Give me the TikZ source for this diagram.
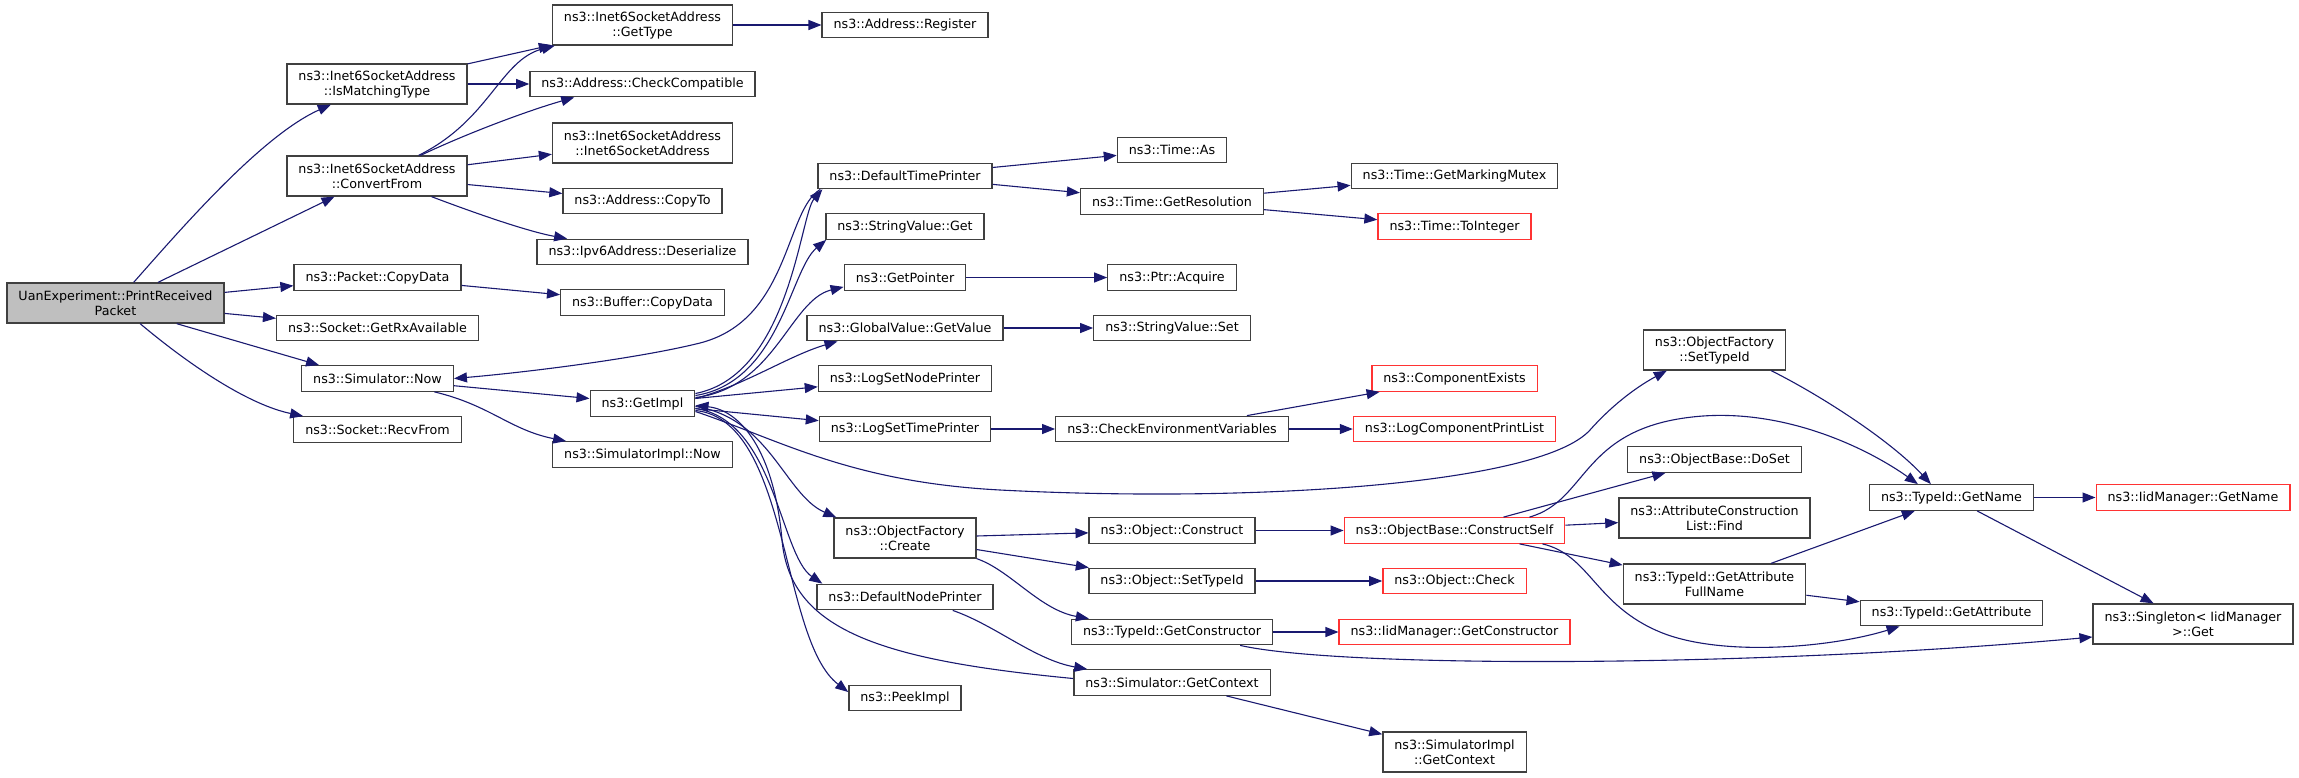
\documentclass[tikz,border=0pt]{standalone}
\usepackage{fontspec}
\setmainfont{DejaVu Sans}
\usetikzlibrary{arrows.meta}
\definecolor{edgeblue}{HTML}{191970}
\definecolor{boxgray}{HTML}{404040}
\definecolor{boxred}{HTML}{FF3333}
\definecolor{rootfill}{HTML}{BFBFBF}

\begin{document}
\begin{tikzpicture}
    [x=1pt, y=-1pt,
     fn/.style={draw=boxgray, line width=1.3pt, fill=white, align=center,
       font=\fontsize{12.7pt}{15pt}\selectfont,
       inner xsep=11.5pt, inner ysep=0pt, minimum height=25.5pt},
     fn2/.style={fn, minimum height=40pt},
     fnred/.style={fn, draw=boxred},
     fnroot/.style={fn2, fill=rootfill},
     call/.style={draw=edgeblue, line width=1.1pt,
       -{Triangle[length=13pt,width=10pt]}}]
    \useasboundingbox (0,0) rectangle (2299,777);

    \node[fnroot] (root) at (115.5,303) {UanExperiment::PrintReceived\\Packet};

    % callees of the root
    \node[fn2] (isMatching) at (377,84) {ns3::Inet6SocketAddress\\::IsMatchingType};
    \node[fn2] (convertFrom) at (377,176) {ns3::Inet6SocketAddress\\::ConvertFrom};
    \node[fn] (pktCopyData) at (377.5,277.5) {ns3::Packet::CopyData};
    \node[fn] (rxAvailable) at (377.5,328) {ns3::Socket::GetRxAvailable};
    \node[fn] (simNow) at (377.5,378.5) {ns3::Simulator::Now};
    \node[fn] (recvFrom) at (377.5,429.5) {ns3::Socket::RecvFrom};

    \node[fn2] (getType) at (642.5,25) {ns3::Inet6SocketAddress\\::GetType};
    \node[fn] (checkCompat) at (642.5,84) {ns3::Address::CheckCompatible};
    \node[fn2] (inet6Addr) at (642.5,143) {ns3::Inet6SocketAddress\\::Inet6SocketAddress};
    \node[fn] (copyTo) at (642.5,201) {ns3::Address::CopyTo};
    \node[fn] (deserialize) at (642.5,252) {ns3::Ipv6Address::Deserialize};
    \node[fn] (bufCopyData) at (642.5,302.5) {ns3::Buffer::CopyData};
    \node[fn] (getImpl) at (642.5,403.5) {ns3::GetImpl};
    \node[fn] (implNow) at (642.5,454.5) {ns3::SimulatorImpl::Now};

    \node[fn] (addrRegister) at (905,25) {ns3::Address::Register};
    \node[fn] (defTimePrinter) at (905,176) {ns3::DefaultTimePrinter};
    \node[fn] (strGet) at (905,226.5) {ns3::StringValue::Get};
    \node[fn] (getPointer) at (905,277.5) {ns3::GetPointer};
    \node[fn] (gvGetValue) at (905,328) {ns3::GlobalValue::GetValue};
    \node[fn] (nodePrinter) at (905,378.5) {ns3::LogSetNodePrinter};
    \node[fn] (timePrinter) at (905,429) {ns3::LogSetTimePrinter};
    \node[fn2] (factCreate) at (905,538) {ns3::ObjectFactory\\::Create};
    \node[fn] (defNodePrinter) at (905,597) {ns3::DefaultNodePrinter};
    \node[fn] (peekImpl) at (905,698) {ns3::PeekImpl};

    \node[fn] (timeAs) at (1172,150) {ns3::Time::As};
    \node[fn] (getResolution) at (1172,201.5) {ns3::Time::GetResolution};
    \node[fn] (ptrAcquire) at (1172,277.5) {ns3::Ptr::Acquire};
    \node[fn] (strSet) at (1172,328) {ns3::StringValue::Set};
    \node[fn] (checkEnv) at (1172,429) {ns3::CheckEnvironmentVariables};
    \node[fn] (objConstruct) at (1172,530.5) {ns3::Object::Construct};
    \node[fn] (objSetTypeId) at (1172,581) {ns3::Object::SetTypeId};
    \node[fn] (getCtor) at (1172,632) {ns3::TypeId::GetConstructor};
    \node[fn] (getContext) at (1172,682.5) {ns3::Simulator::GetContext};

    \node[fn] (markingMutex) at (1454.5,176) {ns3::Time::GetMarkingMutex};
    \node[fnred] (toInteger) at (1454.5,226.5) {ns3::Time::ToInteger};
    \node[fnred] (compExists) at (1454.5,378.5) {ns3::ComponentExists};
    \node[fnred] (logPrintList) at (1454.5,429) {ns3::LogComponentPrintList};
    \node[fnred] (constructSelf) at (1454.5,530.5) {ns3::ObjectBase::ConstructSelf};
    \node[fnred] (objCheck) at (1454.5,581) {ns3::Object::Check};
    \node[fnred] (iidCtor) at (1454.5,632) {ns3::IidManager::GetConstructor};
    \node[fn2] (implContext) at (1454.5,752) {ns3::SimulatorImpl\\::GetContext};

    \node[fn2] (factSetTypeId) at (1714.5,350) {ns3::ObjectFactory\\::SetTypeId};
    \node[fn] (doSet) at (1714.5,459.5) {ns3::ObjectBase::DoSet};
    \node[fn2] (attrFind) at (1714.5,518) {ns3::AttributeConstruction\\List::Find};
    \node[fn2] (attrFullName) at (1714.5,584) {ns3::TypeId::GetAttribute\\FullName};

    \node[fn] (getName) at (1951.5,497.5) {ns3::TypeId::GetName};
    \node[fn] (getAttribute) at (1951.5,613) {ns3::TypeId::GetAttribute};
    \node[fnred] (iidGetName) at (2193,497.5) {ns3::IidManager::GetName};
    \node[fn2] (singletonGet) at (2193,624) {ns3::Singleton< IidManager\\>::Get};

    % calls from the root
    \draw [call] (root) .. controls (186,223) and (263,135) .. (isMatching);
    \draw [call] (root) -- (convertFrom);
    \draw [call] (root) -- (pktCopyData);
    \draw [call] (root) -- (rxAvailable);
    \draw [call] ([xshift=-48pt]root.south east) -- ([xshift=18pt]simNow.north west);
    \draw [call] (root) .. controls (193,368) and (250,405) .. ([xshift=10pt]recvFrom.north west);

    \draw [call] (isMatching) -- (getType);
    \draw [call] (isMatching) -- (checkCompat);
    \draw [call] (convertFrom) .. controls (490,120) and (500,60) .. ([xshift=3pt]getType.south west);
    \draw [call] (convertFrom) .. controls (470,132) and (530,110) .. ([xshift=45pt]checkCompat.south west);
    \draw [call] (convertFrom) -- (inet6Addr);
    \draw [call] (convertFrom) -- (copyTo);
    \draw [call] (convertFrom) .. controls (480,215) and (530,232) .. (deserialize);
    \draw [call] (getType) -- (addrRegister);
    \draw [call] (pktCopyData) -- (bufCopyData);
    \draw [call] (simNow) -- (getImpl);
    \draw [call] (simNow) .. controls (490,405) and (510,430) .. ([xshift=14pt]implNow.north west);

    % calls from GetImpl
    \draw [call] ([yshift=10pt]getImpl.east) .. controls (790,375) and (800,215) .. ([xshift=5pt]defTimePrinter.south west);
    \draw [call] ([yshift=8pt]getImpl.east) .. controls (780,382) and (790,270) .. ([xshift=1pt]strGet.south west);
    \draw [call] ([yshift=6pt]getImpl.east) .. controls (775,388) and (790,300) .. ([yshift=4pt]getPointer.south west);
    \draw [call] ([yshift=5pt]getImpl.east) .. controls (745,385) and (790,355) .. ([xshift=31pt]gvGetValue.south west);
    \draw [call] (getImpl) -- (nodePrinter);
    \draw [call] (getImpl) -- (timePrinter);
    \draw [call] ([yshift=-8pt]getImpl.east) .. controls (780,440) and (850,482) .. (1000,490)
        .. controls (1250,503) and (1540,485) .. (1590,430)
        .. controls (1615,402) and (1640,385) .. ([xshift=24pt]factSetTypeId.south west);
    \draw [call] ([yshift=-3pt]getImpl.east) .. controls (770,418) and (785,495) .. ([xshift=3pt]factCreate.north west);
    \draw [call] ([yshift=-5pt]getImpl.east) .. controls (775,420) and (780,555) .. ([xshift=6pt]defNodePrinter.north west);
    \draw [call] ([yshift=-7pt]getImpl.east) .. controls (790,420) and (780,640) .. ([yshift=6pt]peekImpl.west);
    \draw [call] ([yshift=4pt]getContext.west) .. controls (880,660) and (790,630) .. (782,540)
        .. controls (774,450) and (740,410) .. ([yshift=-2pt]getImpl.east);
    \draw [call] ([xshift=3pt]defTimePrinter.south west) .. controls (785,210) and (790,320) .. (700,343)
        .. controls (640,358) and (530,372) .. (simNow.east);

    \draw [call] (defTimePrinter) -- (timeAs);
    \draw [call] (defTimePrinter) -- (getResolution);
    \draw [call] (getResolution) -- (markingMutex);
    \draw [call] (getResolution) -- (toInteger);
    \draw [call] (getPointer) -- (ptrAcquire);
    \draw [call] (gvGetValue) -- (strSet);
    \draw [call] (timePrinter) -- (checkEnv);
    \draw [call] (checkEnv) -- (compExists);
    \draw [call] (checkEnv) -- (logPrintList);

    % object factory
    \draw [call] (factCreate) -- (objConstruct);
    \draw [call] (factCreate) -- (objSetTypeId);
    \draw [call] (factCreate.south east) .. controls (1010,570) and (1040,610) .. ([xshift=18pt]getCtor.north west);
    \draw [call] (objConstruct) -- (constructSelf);
    \draw [call] (objSetTypeId) -- (objCheck);
    \draw [call] (getCtor) -- (iidCtor);
    \draw [call] ([xshift=-33pt]getCtor.south east) .. controls (1340,668) and (1750,668) .. ([yshift=-13pt]singletonGet.west);
    \draw [call] ([xshift=-41pt]defNodePrinter.south east) .. controls (995,625) and (1035,660) .. ([xshift=14pt]getContext.north west);
    \draw [call] (getContext) -- (implContext);

    \draw [call] (constructSelf) -- (doSet);
    \draw [call] (constructSelf) -- (attrFind);
    \draw [call] (constructSelf) -- (attrFullName);
    \draw [call] ([xshift=-23pt]constructSelf.south east) .. controls (1590,555) and (1595,605) .. (1660,632)
        .. controls (1720,657) and (1830,648) .. ([xshift=40pt]getAttribute.south west);
    \draw [call] ([xshift=-36pt]constructSelf.north east) .. controls (1590,500) and (1580,425) .. (1703,416)
        .. controls (1790,410) and (1870,450) .. ([xshift=49pt]getName.north west);
    \draw [call] ([xshift=-15pt]factSetTypeId.south east) .. controls (1820,395) and (1890,440) .. ([xshift=62pt]getName.north west);
    \draw [call] (attrFullName) -- (getName);
    \draw [call] (attrFullName) -- (getAttribute);
    \draw [call] (getName) -- (iidGetName);
    \draw [call] (getName) -- (singletonGet);
  \end{tikzpicture}
\end{document}
